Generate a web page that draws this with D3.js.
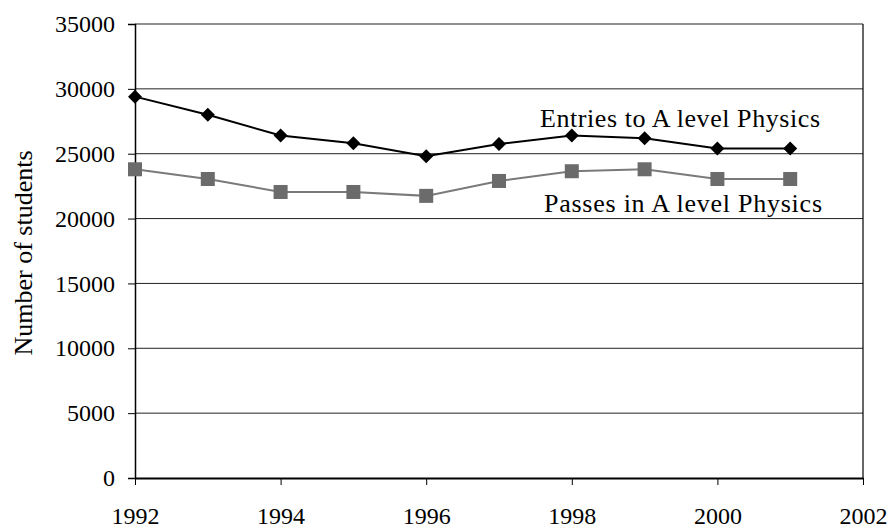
<!DOCTYPE html>
<html>
<head>
<meta charset="utf-8">
<script src="https://cdn.jsdelivr.net/npm/d3@7"></script>
<style>
  html, body { margin: 0; padding: 0; background: #fff; }
  svg text { font-family: "Liberation Serif", "Times New Roman", serif; fill: #000; }
</style>
</head>
<body>
<svg id="chart" width="892" height="530"></svg>
<script>
const years = [1992, 1993, 1994, 1995, 1996, 1997, 1998, 1999, 2000, 2001];
const entries = [29400, 28000, 26400, 25800, 24800, 25750, 26400, 26200, 25400, 25400];
const passes = [23800, 23050, 22050, 22050, 21750, 22900, 23650, 23800, 23050, 23050];
const xTicks = [1992, 1994, 1996, 1998, 2000, 2002];
const yTicks = [0, 5000, 10000, 15000, 20000, 25000, 30000, 35000];
const yTitle = "Number of students";
const entriesLabel = "Entries to A level Physics";
const passesLabel = "Passes in A level Physics";

const svg = d3.select("#chart");
const mL = 135, mR = 863, mT = 24, mB = 478;

const x = d3.scaleLinear().domain([1992, 2002]).range([mL, mR]);
const y = d3.scaleLinear().domain([0, 35000]).range([mB, mT]);

// gridlines
svg.append("g").selectAll("line").data(yTicks.filter(d => d > 0)).join("line")
  .attr("x1", mL).attr("x2", mR)
  .attr("y1", d => y(d)).attr("y2", d => y(d))
  .attr("stroke", "#222").attr("stroke-width", 1);

// right border
svg.append("line").attr("x1", mR).attr("x2", mR).attr("y1", mT).attr("y2", mB)
  .attr("stroke", "#000").attr("stroke-width", 1.2);

// y axis
const yAxis = svg.append("g").attr("transform", `translate(${mL},0)`)
  .call(d3.axisLeft(y).tickValues(yTicks).tickFormat(d3.format("d")).tickSize(7).tickPadding(13));
yAxis.select(".domain").attr("stroke", "#000").attr("stroke-width", 1.5);
yAxis.selectAll(".tick line").attr("stroke", "#000").attr("stroke-width", 1);
yAxis.selectAll(".tick text").style("font-family", '"Liberation Serif", serif').style("font-size", "24px").attr("fill", "#000");

// x axis
const xAxis = svg.append("g").attr("transform", `translate(0,${mB})`)
  .call(d3.axisBottom(x).tickValues(xTicks).tickFormat(d3.format("d")).tickSize(7).tickSizeOuter(0));
xAxis.select(".domain").attr("stroke", "#000").attr("stroke-width", 2);
xAxis.selectAll(".tick line").attr("stroke", "#000").attr("stroke-width", 1);
xAxis.selectAll(".tick text").style("font-family", '"Liberation Serif", serif').style("font-size", "24px")
  .attr("fill", "#000").attr("y", 46).attr("dy", 0);

// y title
svg.append("text")
  .attr("transform", `translate(32,${(mT + mB) / 2 + 2}) rotate(-90)`)
  .attr("text-anchor", "middle")
  .style("font-size", "26px")
  .text(yTitle);

const line = d3.line().x((d, i) => x(years[i])).y(d => y(d));

// passes series
svg.append("path").datum(passes).attr("d", line)
  .attr("fill", "none").attr("stroke", "#7a7a7a").attr("stroke-width", 2);
svg.append("g").selectAll("rect").data(passes).join("rect")
  .attr("x", (d, i) => x(years[i]) - 7).attr("y", d => y(d) - 7)
  .attr("width", 14).attr("height", 14)
  .attr("fill", "#6b6b6b");

// entries series
svg.append("path").datum(entries).attr("d", line)
  .attr("fill", "none").attr("stroke", "#000").attr("stroke-width", 2);
svg.append("g").selectAll("path.m").data(entries).join("path")
  .attr("class", "m")
  .attr("transform", (d, i) => `translate(${x(years[i])},${y(d)})`)
  .attr("d", "M0,-7 L7,0 L0,7 L-7,0 Z")
  .attr("fill", "#000");

// annotations
svg.append("text").attr("x", 540).attr("y", 127)
  .style("font-size", "26px").attr("textLength", 280).attr("lengthAdjust", "spacing")
  .text(entriesLabel);
svg.append("text").attr("x", 544).attr("y", 212)
  .style("font-size", "26px").attr("textLength", 278).attr("lengthAdjust", "spacing")
  .text(passesLabel);
</script>
</body>
</html>
